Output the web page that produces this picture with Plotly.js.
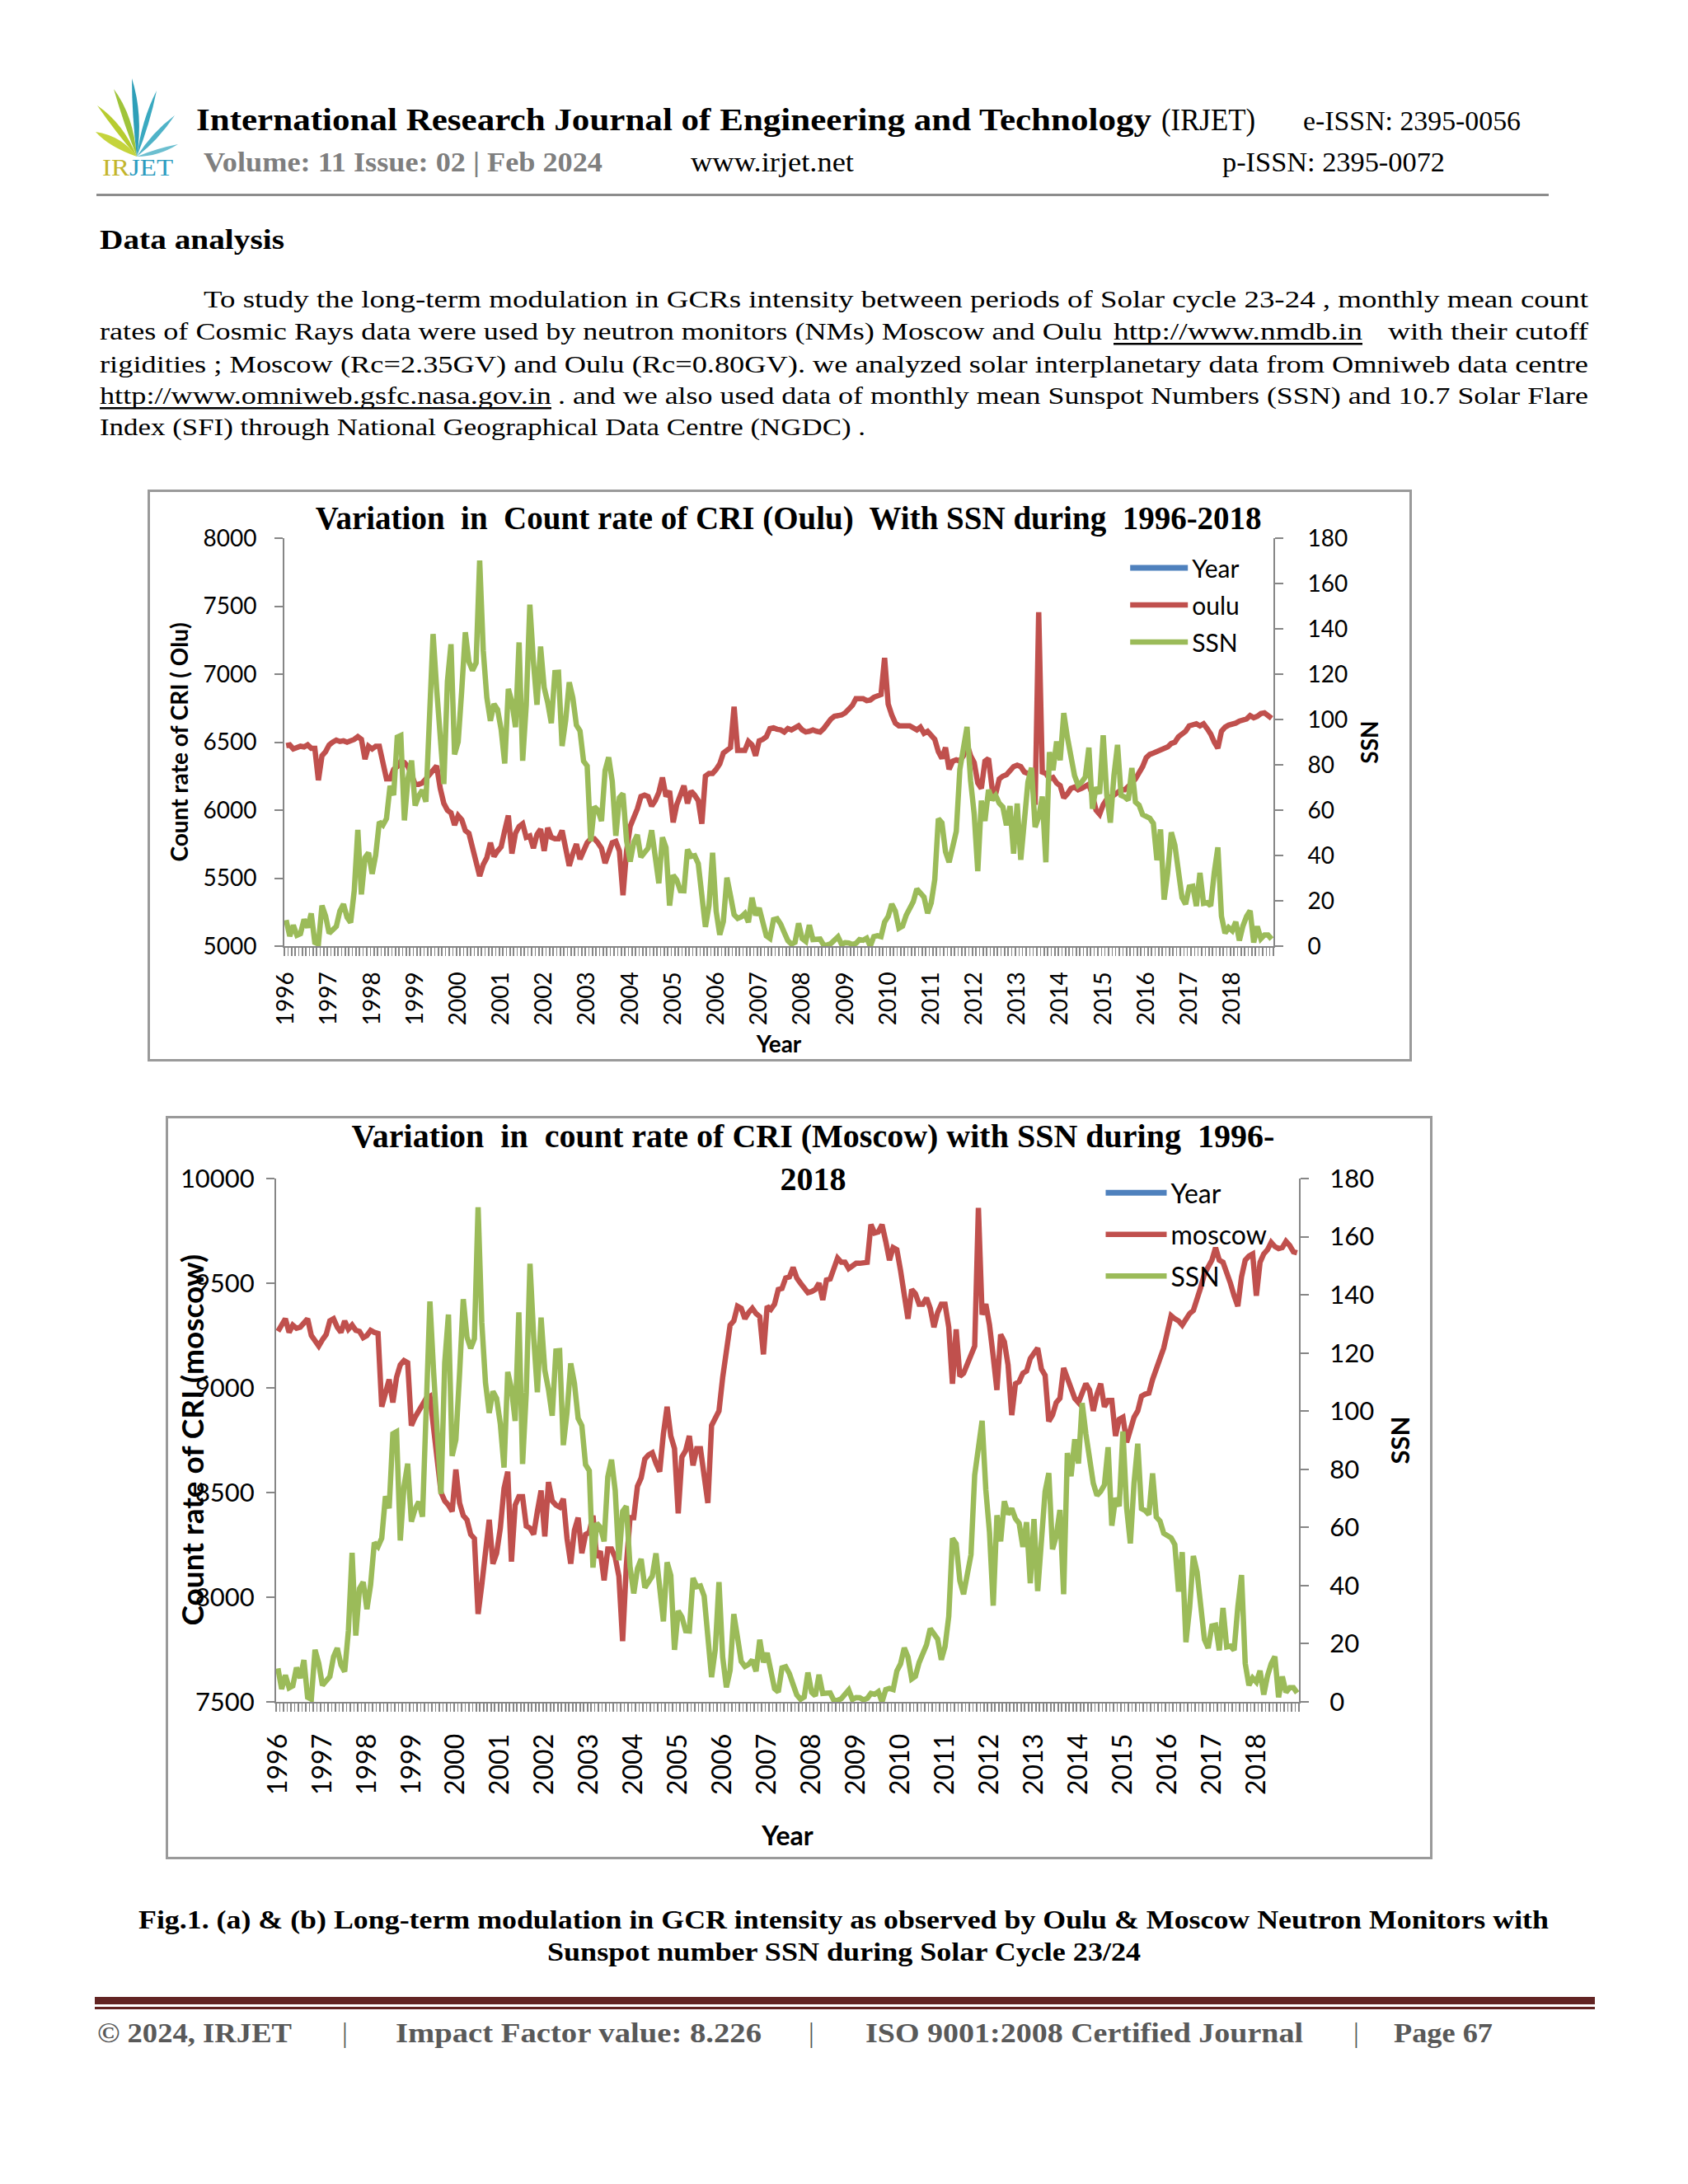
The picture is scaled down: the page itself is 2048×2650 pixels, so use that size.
<!DOCTYPE html>
<html><head><meta charset="utf-8">
<script src="https://cdn.plot.ly/plotly-3.0.1.min.js"></script>
<style>
html,body{margin:0;padding:0;background:#fff}
body{width:2048px;height:2650px;position:relative;overflow:hidden}
#page{position:absolute;left:0;top:0}
.plot{position:absolute}
.frame{position:absolute;box-sizing:border-box;border:3px solid #9a9a9a;pointer-events:none}
</style></head>
<body>
<svg id="page" width="2048" height="2650" xmlns="http://www.w3.org/2000/svg" font-family="'Liberation Serif', serif" xml:space="preserve">
  <!-- logo -->
  <g id="logo">
    <path d="M166,190 Q140,160 118,128 Q150,150 166,190 Z" fill="#b7cc2f"/>
    <path d="M166,190 Q132,178 116,160 Q148,165 166,190 Z" fill="#c5d43c"/>
    <path d="M166,190 Q150,150 138,108 Q162,140 166,190 Z" fill="#9fc43a"/>
    <path d="M166,190 Q160,140 160,95 Q174,140 166,190 Z" fill="#2e9fb8"/>
    <path d="M166,190 Q172,145 190,110 Q182,150 166,190 Z" fill="#3aa9c0"/>
    <path d="M166,190 Q185,160 212,140 Q192,170 166,190 Z" fill="#4fb3c8"/>
    <path d="M166,190 Q190,180 216,175 Q192,190 166,190 Z" fill="#6cbfd0"/>
    <text x="124" y="213" font-size="30" textLength="86" lengthAdjust="spacingAndGlyphs"><tspan fill="#c3b52b">IR</tspan><tspan fill="#2d9cc0">JET</tspan></text>
  </g>
  <text x="238" y="158" font-size="38" font-weight="bold" textLength="1159" lengthAdjust="spacingAndGlyphs">International Research Journal of Engineering and Technology</text>
  <text x="1409" y="158" font-size="38" textLength="114" lengthAdjust="spacingAndGlyphs">(IRJET)</text>
  <text x="1581" y="158" font-size="33" textLength="264" lengthAdjust="spacingAndGlyphs">e-ISSN: 2395-0056</text>
  <text x="247" y="208" font-size="33" font-weight="bold" fill="#7f7f7f" textLength="484" lengthAdjust="spacingAndGlyphs">Volume: 11 Issue: 02 | Feb 2024</text>
  <text x="838" y="208" font-size="33" textLength="198" lengthAdjust="spacingAndGlyphs">www.irjet.net</text>
  <text x="1483" y="208" font-size="33" textLength="270" lengthAdjust="spacingAndGlyphs">p-ISSN: 2395-0072</text>
  <rect x="117" y="235" width="1762" height="3" fill="#8c8c8c"/>

  <text x="121" y="302" font-size="33" font-weight="bold" textLength="224" lengthAdjust="spacingAndGlyphs">Data analysis</text>

  <g font-size="29">
    <text x="247" y="373" textLength="1680" lengthAdjust="spacingAndGlyphs">To study the long-term modulation  in  GCRs  intensity  between periods of   Solar cycle  23-24 , monthly mean count</text>
    <text x="121" y="412" textLength="1216" lengthAdjust="spacingAndGlyphs">rates of Cosmic Rays data were used  by neutron monitors (NMs) Moscow and Oulu</text>
    <text x="1351" y="412" textLength="302" lengthAdjust="spacingAndGlyphs">http://www.nmdb.in</text>
    <rect x="1351" y="416" width="302" height="2.5" fill="#000"/>
    <text x="1684" y="412" textLength="243" lengthAdjust="spacingAndGlyphs">with their  cutoff</text>
    <text x="121" y="452" textLength="1806" lengthAdjust="spacingAndGlyphs">rigidities ; Moscow (Rc=2.35GV) and Oulu (Rc=0.80GV). we analyzed solar interplanetary data from Omniweb data centre</text>
    <text x="121" y="490" textLength="548" lengthAdjust="spacingAndGlyphs">http://www.omniweb.gsfc.nasa.gov.in</text>
    <rect x="121" y="494" width="548" height="2.5" fill="#000"/>
    <text x="677" y="490" textLength="1250" lengthAdjust="spacingAndGlyphs">.  and  we also used data of monthly mean Sunspot Numbers (SSN) and 10.7 Solar Flare</text>
    <text x="121" y="528" textLength="929" lengthAdjust="spacingAndGlyphs">Index (SFI)  through  National Geographical Data Centre (NGDC) .</text>
  </g>

  <g font-size="31" font-weight="bold">
    <text x="168" y="2340" textLength="1711" lengthAdjust="spacingAndGlyphs">Fig.1. (a) &amp; (b)  Long-term modulation  in  GCR  intensity  as observed by Oulu &amp; Moscow Neutron Monitors  with</text>
    <text x="664" y="2379" textLength="720" lengthAdjust="spacingAndGlyphs">Sunspot number  SSN  during Solar Cycle 23/24</text>
  </g>

  <rect x="115" y="2423" width="1820" height="9" fill="#622423"/>
  <rect x="115" y="2435" width="1820" height="3" fill="#622423"/>
  <g font-size="34" fill="#595959">
    <text x="118" y="2478" font-weight="bold" textLength="236" lengthAdjust="spacingAndGlyphs">© 2024, IRJET</text>
    <text x="415" y="2478">|</text>
    <text x="480" y="2478" font-weight="bold" textLength="444" lengthAdjust="spacingAndGlyphs">Impact Factor value: 8.226</text>
    <text x="981" y="2478">|</text>
    <text x="1050" y="2478" font-weight="bold" textLength="531" lengthAdjust="spacingAndGlyphs">ISO 9001:2008 Certified Journal</text>
    <text x="1642" y="2478">|</text>
    <text x="1691" y="2478" font-weight="bold" textLength="120" lengthAdjust="spacingAndGlyphs">Page 67</text>
  </g>
</svg>

<div id="c1" class="plot" style="left:179px;top:594px;width:1534px;height:694px"></div>
<div class="frame" style="left:179px;top:594px;width:1534px;height:694px"></div>
<div id="c2" class="plot" style="left:201px;top:1354px;width:1537px;height:902px"></div>
<div class="frame" style="left:201px;top:1354px;width:1537px;height:902px"></div>

<script>
// ---- data (monthly, Jan 1996 - Dec 2018) ----
const yearLabels = ['1996','1997','1998','1999','2000','2001','2002','2003','2004','2005','2006','2007',
  '2008','2009','2010','2011','2012','2013','2014','2015','2016','2017','2018'];

const ssn = [
  11.5,4.4,9.2,4.8,5.5,11.8,8.2,14.4,1.6,0.9,17.9,13.3,
  5.7,7.6,8.7,15.5,18.5,12.7,10.4,24.4,51.3,22.8,39.0,41.2,
  31.9,40.3,54.8,53.4,56.3,70.7,66.6,92.2,92.9,55.5,74.0,81.9,
  62.0,66.3,68.8,63.7,106.4,137.7,113.5,93.7,71.5,116.7,133.2,84.6,
  90.1,112.9,138.5,125.5,121.6,124.9,170.1,130.5,109.7,99.4,106.8,104.4,
  95.6,80.6,113.5,107.7,96.6,134.0,81.8,106.4,150.7,125.5,106.5,132.2,
  114.1,107.4,98.4,120.7,120.8,88.3,99.6,116.4,109.6,97.5,95.0,81.6,
  79.5,46.2,61.5,60.0,55.2,77.4,83.3,72.7,48.7,65.5,67.3,46.5,
  37.3,45.8,49.1,39.3,41.5,43.2,51.1,40.9,27.7,48.0,43.5,17.9,
  31.3,29.2,24.5,24.4,42.6,39.6,39.9,36.4,22.1,8.5,18.0,41.2,
  15.4,5.0,10.8,30.2,22.2,13.9,12.2,12.9,14.4,10.5,21.4,13.6,
  16.8,10.7,4.5,3.4,11.7,12.1,9.7,6.0,2.4,0.9,1.7,10.1,
  3.3,2.1,9.3,2.9,2.9,3.1,0.5,0.5,1.1,2.9,4.1,0.8,
  1.5,1.4,0.7,1.2,2.9,2.6,3.5,0.0,4.2,4.6,4.2,10.6,
  13.1,18.6,15.4,7.9,8.8,13.5,16.1,19.6,25.2,23.5,21.6,14.5,
  19.0,29.4,56.2,54.4,41.6,37.0,43.9,50.6,78.0,88.0,96.7,73.0,
  58.3,33.1,64.2,55.2,69.0,64.5,66.5,63.0,61.4,53.3,61.8,40.8,
  62.9,38.1,57.9,72.4,78.7,52.5,57.0,66.0,37.0,85.6,77.6,90.3,
  82.0,102.8,92.2,84.7,75.2,71.0,72.4,74.6,87.6,60.6,70.1,67.3,
  93.0,66.7,54.5,75.3,88.8,66.5,65.8,64.4,78.6,63.6,62.2,58.0,
  57.0,56.4,54.1,37.9,51.5,20.5,32.4,50.2,44.6,33.4,21.4,18.5,
  26.1,26.4,17.7,32.3,18.9,19.2,17.8,32.6,43.6,13.2,5.7,8.2,
  6.8,10.7,2.5,8.9,13.1,15.6,1.6,8.7,3.3,4.9,4.9,3.1
];

const oulu = [
  6475,6480,6450,6465,6470,6465,6480,6455,6455,6220,6400,6430,
  6480,6500,6515,6505,6510,6500,6505,6520,6540,6520,6375,6470,
  6450,6470,6470,6340,6230,6230,6300,6320,6360,6350,6320,6260,
  6190,6190,6200,6230,6260,6290,6325,6160,6050,6000,5980,5890,
  5960,5930,5850,5830,5720,5640,5515,5600,5650,5760,5660,5700,
  5730,5850,5960,5680,5830,5880,5900,5800,5810,5720,5820,5860,
  5700,5870,5800,5790,5790,5850,5700,5590,5680,5750,5640,5700,
  5760,5790,5790,5760,5720,5610,5700,5760,5770,5700,5375,5700,
  5880,5940,6010,6100,6110,6100,6030,6070,6130,6240,6100,6140,
  5910,6040,6100,6180,6050,6140,6110,6070,5900,6250,6270,6270,
  6300,6340,6420,6445,6460,6760,6440,6440,6440,6505,6480,6400,
  6510,6520,6540,6600,6605,6595,6590,6575,6600,6590,6610,6620,
  6590,6575,6580,6590,6580,6575,6600,6640,6670,6690,6695,6700,
  6715,6740,6770,6820,6825,6820,6805,6810,6830,6840,6850,7120,
  6780,6700,6640,6620,6625,6620,6620,6600,6590,6610,6565,6580,
  6545,6520,6430,6380,6460,6300,6360,6370,6360,6400,6485,6400,
  6350,6200,6160,6360,6380,6160,6120,6230,6250,6260,6290,6320,
  6330,6320,6280,6270,6280,6040,7455,6280,6270,6230,6240,6200,
  6180,6090,6120,6160,6170,6150,6160,6180,6190,6110,6000,5970,
  6040,6080,6090,6110,6130,6150,6150,6170,6200,6230,6270,6320,
  6385,6410,6420,6430,6450,6460,6465,6490,6500,6540,6560,6580,
  6620,6630,6635,6620,6635,6600,6560,6500,6455,6580,6610,6625,
  6630,6640,6655,6665,6670,6695,6680,6690,6710,6715,6700,6675
];

const moscow = [
  9270,9300,9330,9265,9300,9285,9290,9310,9330,9250,9220,9200,
  9230,9255,9320,9330,9290,9265,9320,9280,9300,9275,9270,9240,
  9250,9275,9265,9260,8910,8970,9040,8930,9050,9110,9130,9120,
  8820,8860,8890,8930,8950,8960,8790,8650,8500,8460,8440,8410,
  8610,8450,8390,8370,8300,8280,7920,8060,8220,8370,8160,8210,
  8330,8520,8600,8170,8440,8480,8480,8340,8330,8300,8410,8510,
  8290,8550,8460,8440,8430,8470,8280,8160,8320,8380,8210,8300,
  8310,8390,8190,8220,8080,8230,8230,8190,8100,7790,8150,8380,
  8380,8530,8570,8660,8680,8690,8640,8600,8780,8910,8770,8710,
  8400,8670,8700,8770,8630,8710,8710,8600,8450,8820,8850,8890,
  9050,9200,9300,9320,9390,9380,9330,9360,9380,9355,9340,9160,
  9390,9375,9400,9470,9475,9525,9530,9575,9525,9500,9480,9455,
  9460,9470,9500,9420,9515,9520,9570,9620,9600,9600,9570,9585,
  9595,9595,9596,9600,9780,9740,9745,9780,9700,9610,9670,9660,
  9560,9460,9330,9470,9450,9400,9400,9430,9380,9290,9360,9400,
  9400,9290,9020,9280,9055,9070,9110,9160,9200,9860,9350,9400,
  9300,9150,8990,9255,9220,9110,8870,9020,9030,9070,9080,9140,
  9170,9190,9090,9060,8840,8870,8930,8950,9095,9040,8990,8950,
  8930,8970,9020,8990,8890,8970,9020,8910,8940,8940,8770,8850,
  8860,8740,8800,8860,8890,8960,8970,8975,9040,9100,9140,9190,
  9260,9345,9330,9320,9300,9330,9355,9370,9420,9480,9545,9580,
  9610,9670,9610,9600,9555,9500,9440,9390,9530,9610,9630,9640,
  9440,9600,9640,9660,9695,9675,9665,9670,9700,9680,9650,9645
];

// ---- styling ----
const RED = '#C0504D', GREEN = '#9BBB59', BLUE = '#4F81BD', AXIS = '#868686';
const TICKFONT = 'Lato, "Open Sans", sans-serif';
const TITLEFONT = '"Liberation Serif", "Times New Roman", serif';

const idx = oulu.map((_, i) => i);             // category positions (months)
const yearTicks = yearLabels.map((_, k) => k * 12);

function xAxis(fs, standoff, titleStandoff) {
  return {
    range: [-0.5, idx.length - 0.5], tickmode: 'array', tickvals: yearTicks, ticktext: yearLabels,
    tickangle: -90, ticks: '', showline: true, linecolor: AXIS, linewidth: 2,
    showgrid: false, zeroline: false, automargin: false,
    tickfont: {family: TICKFONT, size: fs, color: '#000'}, ticklabelstandoff: standoff,
    minor: {tickmode: 'linear', tick0: -0.5, dtick: 1, ticks: 'outside', ticklen: 10,
            tickcolor: AXIS, tickwidth: 1.6, showgrid: false},
    title: {text: '<b>Year</b>', font: {family: TICKFONT, size: fs, color: '#000'}, standoff: titleStandoff}
  };
}
function yAxis(range, dtick, fs, standoff, title, titleStandoff, extra) {
  return Object.assign({
    range: range, dtick: dtick, tick0: range[0], ticks: 'outside', ticklen: 10, tickwidth: 2,
    tickcolor: AXIS, showline: true, linecolor: AXIS, linewidth: 2, showgrid: false,
    zeroline: false, automargin: false, tickformat: 'd', exponentformat: 'none',
    tickfont: {family: TICKFONT, size: fs, color: '#000'}, ticklabelstandoff: standoff,
    title: title ? {text: '<b>' + title + '</b>', font: {family: TICKFONT, size: fs, color: '#000'}, standoff: titleStandoff} : undefined
  }, extra || {});
}

function traces(name, vals) {
  return [
    {x: [null], y: [null], name: 'Year', mode: 'lines', line: {color: BLUE, width: 7}, legendgroup: 'a', yaxis: 'y'},
    {x: idx, y: vals, name: name, mode: 'lines', line: {color: RED, width: 6.5}, legendgroup: 'b', yaxis: 'y'},
    {x: idx, y: ssn, name: 'SSN', mode: 'lines', line: {color: GREEN, width: 6.5}, legendgroup: 'c', yaxis: 'y2'}
  ];
}

const layout1 = {
  width: 1534, height: 694, margin: {l: 166, r: 168, t: 59, b: 140},
  paper_bgcolor: '#fff', plot_bgcolor: '#fff', showlegend: true, hovermode: false,
  title: {text: '<b>Variation\u00a0 in\u00a0 Count rate of CRI (Oulu)\u00a0 With SSN during\u00a0 1996-2018</b>',
          font: {family: TITLEFONT, size: 39, color: '#000'},
          xref: 'container', x: 0.507, xanchor: 'center', yref: 'container', y: 0.95, yanchor: 'middle'},
  xaxis: xAxis(28, 18, 14),
  yaxis: yAxis([5000, 8000], 500, 28, 16, 'Count rate of CRI ( Olu)', 10),
  yaxis2: yAxis([0, 180], 20, 28, 24, 'SSN', 18, {overlaying: 'y', side: 'right'}),
  legend: {x: 0.851, y: 0.98, xanchor: 'left', yanchor: 'top', bgcolor: 'rgba(0,0,0,0)',
           font: {family: TICKFONT, size: 30, color: '#000'}, tracegroupgap: 3, itemwidth: 70}
};

const layout2 = {
  width: 1537, height: 902, margin: {l: 134, r: 162, t: 76, b: 191},
  paper_bgcolor: '#fff', plot_bgcolor: '#fff', showlegend: true, hovermode: false,
  title: {text: '<b>Variation\u00a0 in\u00a0 count rate of CRI (Moscow) with SSN during\u00a0 1996-<br>2018</b>',
          font: {family: TITLEFONT, size: 40, color: '#000'},
          xref: 'container', x: 0.511, xanchor: 'center', yref: 'container', y: 0.958, yanchor: 'top'},
  xaxis: xAxis(32, 24, 40),
  yaxis: yAxis([7500, 10000], 500, 31, 8, null, 0),
  yaxis2: yAxis([0, 180], 20, 31, 19, 'SSN', 22, {overlaying: 'y', side: 'right'}),
  legend: {x: 0.807, y: 1.016, xanchor: 'left', yanchor: 'top', bgcolor: 'rgba(0,0,0,0)',
           font: {family: TICKFONT, size: 32, color: '#000'}, tracegroupgap: 6, itemwidth: 74},
  annotations: [{text: '<b>Count rate of CRI (moscow)</b>', textangle: -90, xref: 'paper', yref: 'paper',
                 x: -103 / 1241, y: 0.5, xanchor: 'center', yanchor: 'middle', showarrow: false,
                 font: {family: TICKFONT, size: 37, color: '#000'}}]
};

const cfg = {staticPlot: true, displayModeBar: false};
Plotly.newPlot('c1', traces('oulu', oulu), layout1, cfg);
Plotly.newPlot('c2', traces('moscow', moscow), layout2, cfg);
</script>
</body></html>
